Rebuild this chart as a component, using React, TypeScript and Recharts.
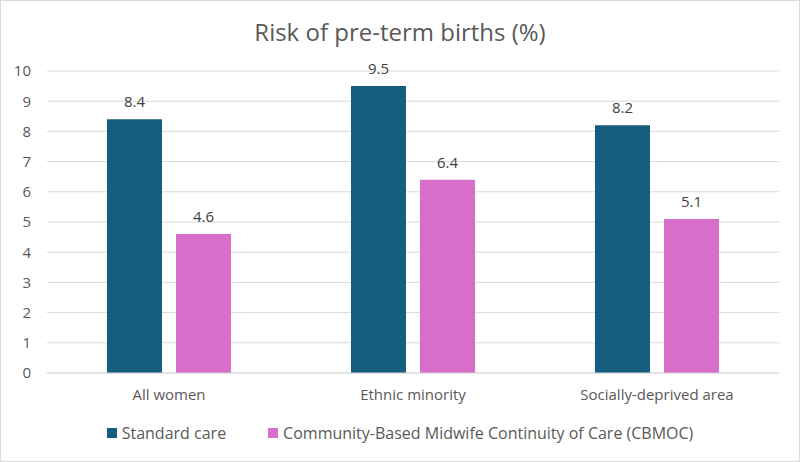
import React from "react";
import { Bar, BarChart, CartesianGrid, LabelList, XAxis, YAxis } from "recharts";

const categories = ["All women", "Ethnic minority", "Socially-deprived area"];
const standardCare = [8.4, 9.5, 8.2];
const cbmoc = [4.6, 6.4, 5.1];
const yTicks = [0, 1, 2, 3, 4, 5, 6, 7, 8, 9, 10];

const data = categories.map((name, i) => ({
  name,
  standard: standardCare[i],
  cbmoc: cbmoc[i],
}));

const FONT = "'Open Sans', 'Noto Sans', sans-serif";
const TEAL = "#165E80";
const PINK = "#D76FCA";

const legendItems = [
  { label: "Standard care", color: TEAL },
  { label: "Community-Based Midwife Continuity of Care (CBMOC)", color: PINK },
];

export default function App() {
  return (
    <div
      style={{
        position: "absolute",
        left: 0,
        top: 0,
        width: 800,
        height: 462,
        background: "#fff",
        border: "1px solid #d9d9d9",
        boxSizing: "border-box",
        fontFamily: FONT,
      }}
    >
      <div
        style={{
          position: "absolute",
          top: 15,
          width: "100%",
          textAlign: "center",
          fontSize: 24,
          lineHeight: "32px",
          color: "#595959",
        }}
      >
        Risk of pre-term births (%)
      </div>
      <BarChart
        width={798}
        height={460}
        data={data}
        margin={{ top: 70, right: 20, left: 0, bottom: 48 }}
        barSize={55}
        barGap={14}
        style={{ position: "absolute", left: 0, top: 0 }}
      >
        <CartesianGrid stroke="#d9d9d9" vertical={false} />
        <XAxis
          dataKey="name"
          tickLine={false}
          axisLine={{ stroke: "#d9d9d9" }}
          tick={{ fill: "#595959", fontSize: 15 }}
          tickMargin={10}
          height={40}
        />
        <YAxis
          domain={[0, 10]}
          ticks={yTicks}
          width={46}
          tickLine={false}
          axisLine={false}
          tickSize={0}
          tickMargin={16}
          tick={{ fill: "#595959", fontSize: 15 }}
        />
        <Bar dataKey="standard" name="Standard care" fill={TEAL} isAnimationActive={false}>
          <LabelList dataKey="standard" position="top" offset={12} fill="#404040" fontSize={15} />
        </Bar>
        <Bar
          dataKey="cbmoc"
          name="Community-Based Midwife Continuity of Care (CBMOC)"
          fill={PINK}
          isAnimationActive={false}
        >
          <LabelList dataKey="cbmoc" position="top" offset={12} fill="#404040" fontSize={15} />
        </Bar>
      </BarChart>
      <div
        style={{
          position: "absolute",
          top: 422,
          width: "100%",
          display: "flex",
          justifyContent: "center",
          gap: 42,
          fontSize: 16,
          lineHeight: "20px",
          color: "#595959",
        }}
      >
        {legendItems.map((it) => (
          <div key={it.label} style={{ display: "flex", alignItems: "center" }}>
            <span
              style={{
                display: "inline-block",
                width: 10,
                height: 10,
                background: it.color,
                marginRight: 5,
              }}
            />
            {it.label}
          </div>
        ))}
      </div>
    </div>
  );
}
